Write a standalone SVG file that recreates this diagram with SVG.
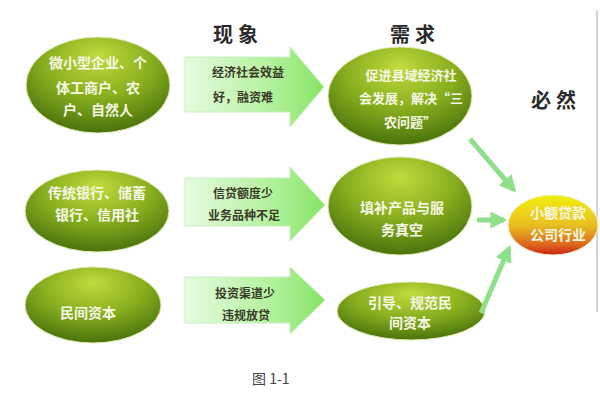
<svg xmlns="http://www.w3.org/2000/svg" width="600" height="400" viewBox="0 0 600 400">
<defs>
<radialGradient id="gEll" cx="0.5" cy="0.3" r="0.7" fx="0.5" fy="0.2">
<stop offset="0" stop-color="#c2dc3c"/>
<stop offset="0.55" stop-color="#86ad1e"/>
<stop offset="1" stop-color="#4a720c"/>
</radialGradient>
<linearGradient id="gRed" x1="0" y1="0" x2="0" y2="1">
<stop offset="0" stop-color="#f2ee10"/>
<stop offset="0.5" stop-color="#e8c020"/>
<stop offset="0.82" stop-color="#dc6a1c"/>
<stop offset="1" stop-color="#cc2418"/>
</linearGradient>
<linearGradient id="gArr" x1="0" y1="0" x2="1" y2="0">
<stop offset="0" stop-color="#e6fbe0"/>
<stop offset="0.6" stop-color="#b4f29e"/>
<stop offset="1" stop-color="#86e466"/>
</linearGradient>
<marker id="ah" viewBox="0 0 10 10" refX="8" refY="5" markerWidth="3.4" markerHeight="3.4" orient="auto" markerUnits="strokeWidth">
<path d="M0,0 L10,5 L0,10 Z" fill="#8fe08a"/>
</marker>
<style>
.ell{fill:url(#gEll);stroke:#dfe9b0;stroke-width:1}
.et{font-family:"Noto Sans CJK SC","Liberation Serif",serif;font-weight:bold;font-size:14px;fill:#f6f6e4;text-anchor:middle}
.sm{font-size:13px}
.at{font-family:"Noto Sans CJK SC","Liberation Serif",serif;font-weight:bold;font-size:12px;fill:#3a3a2a;text-anchor:middle}
.hd{font-family:"Noto Sans CJK SC","Liberation Serif",serif;font-weight:bold;font-size:20px;fill:#2a2a2a;text-anchor:middle;letter-spacing:5px}
.arr{fill:url(#gArr);stroke:#c8efc0;stroke-width:1}
.conn{stroke:#8fe08a;stroke-width:5;fill:none;marker-end:url(#ah)}
</style>
</defs>
<rect width="600" height="400" fill="#ffffff"/>
<line x1="597" y1="10" x2="597" y2="312" stroke="#b8c8d8" stroke-width="1.5"/>
<text class="hd" x="238" y="42">现象</text>
<text class="hd" x="415" y="42">需求</text>
<text class="hd" x="556" y="108">必然</text>

<g id="src1"><ellipse class="ell" cx="98" cy="85" rx="72" ry="48"/>
<text class="et" x="98" y="68">微小型企业、个</text>
<text class="et" x="98" y="93">体工商户、农</text>
<text class="et" x="98" y="115">户、自然人</text></g>
<g id="src2"><ellipse class="ell" cx="97" cy="211" rx="72" ry="41"/>
<text class="et" x="97" y="198">传统银行、储蓄</text>
<text class="et" x="97" y="220">银行、信用社</text></g>
<g id="src3"><ellipse class="ell" cx="93" cy="305" rx="68" ry="38"/>
<text class="et" x="88" y="318">民间资本</text></g>

<g id="ph1"><path class="arr" d="M185,57 L290,57 L290,47 L324,87 L290,127 L290,112 L185,112 Z"/>
<text class="at" x="248" y="77">经济社会效益</text>
<text class="at" x="243" y="102">好，融资难</text></g>
<g id="ph2"><path class="arr" d="M185,178 L290,178 L290,167 L325,205 L290,241 L290,226 L185,226 Z"/>
<text class="at" x="243" y="198">信贷额度少</text>
<text class="at" x="244" y="220">业务品种不足</text></g>
<g id="ph3"><path class="arr" d="M185,277 L290,277 L290,267 L325,300 L290,334 L290,323 L185,323 Z"/>
<text class="at" x="245" y="298">投资渠道少</text>
<text class="at" x="246" y="320">违规放贷</text></g>

<g id="need1"><ellipse class="ell" cx="400" cy="96" rx="72" ry="49"/>
<text class="et sm" x="411" y="80">促进县域经济社</text>
<text class="et sm" x="411" y="103">会发展，解决“三</text>
<text class="et sm" x="410" y="127">农问题”</text></g>
<g id="need2"><ellipse class="ell" cx="400" cy="206" rx="72" ry="49"/>
<text class="et" x="402" y="213">填补产品与服</text>
<text class="et" x="402" y="235">务真空</text></g>
<g id="need3"><ellipse class="ell" cx="411" cy="311" rx="74" ry="29"/>
<text class="et" x="410" y="308">引导、规范民</text>
<text class="et" x="410" y="328">间资本</text></g>

<g id="result"><ellipse cx="553" cy="225" rx="45" ry="30" fill="url(#gRed)" stroke="#f0f0c0" stroke-width="1"/>
<text class="et" x="558" y="218">小额贷款</text>
<text class="et" x="558" y="240">公司行业</text></g>

<g id="connectors">
<line class="conn" x1="470" y1="139" x2="514" y2="190"/>
<line class="conn" x1="477" y1="220" x2="504" y2="220"/>
<line class="conn" x1="481" y1="313" x2="509" y2="248"/>
</g>

<text x="252" y="384" font-family="Noto Sans CJK SC,Liberation Serif,serif" font-size="14" fill="#444">图 1-1</text>
</svg>
